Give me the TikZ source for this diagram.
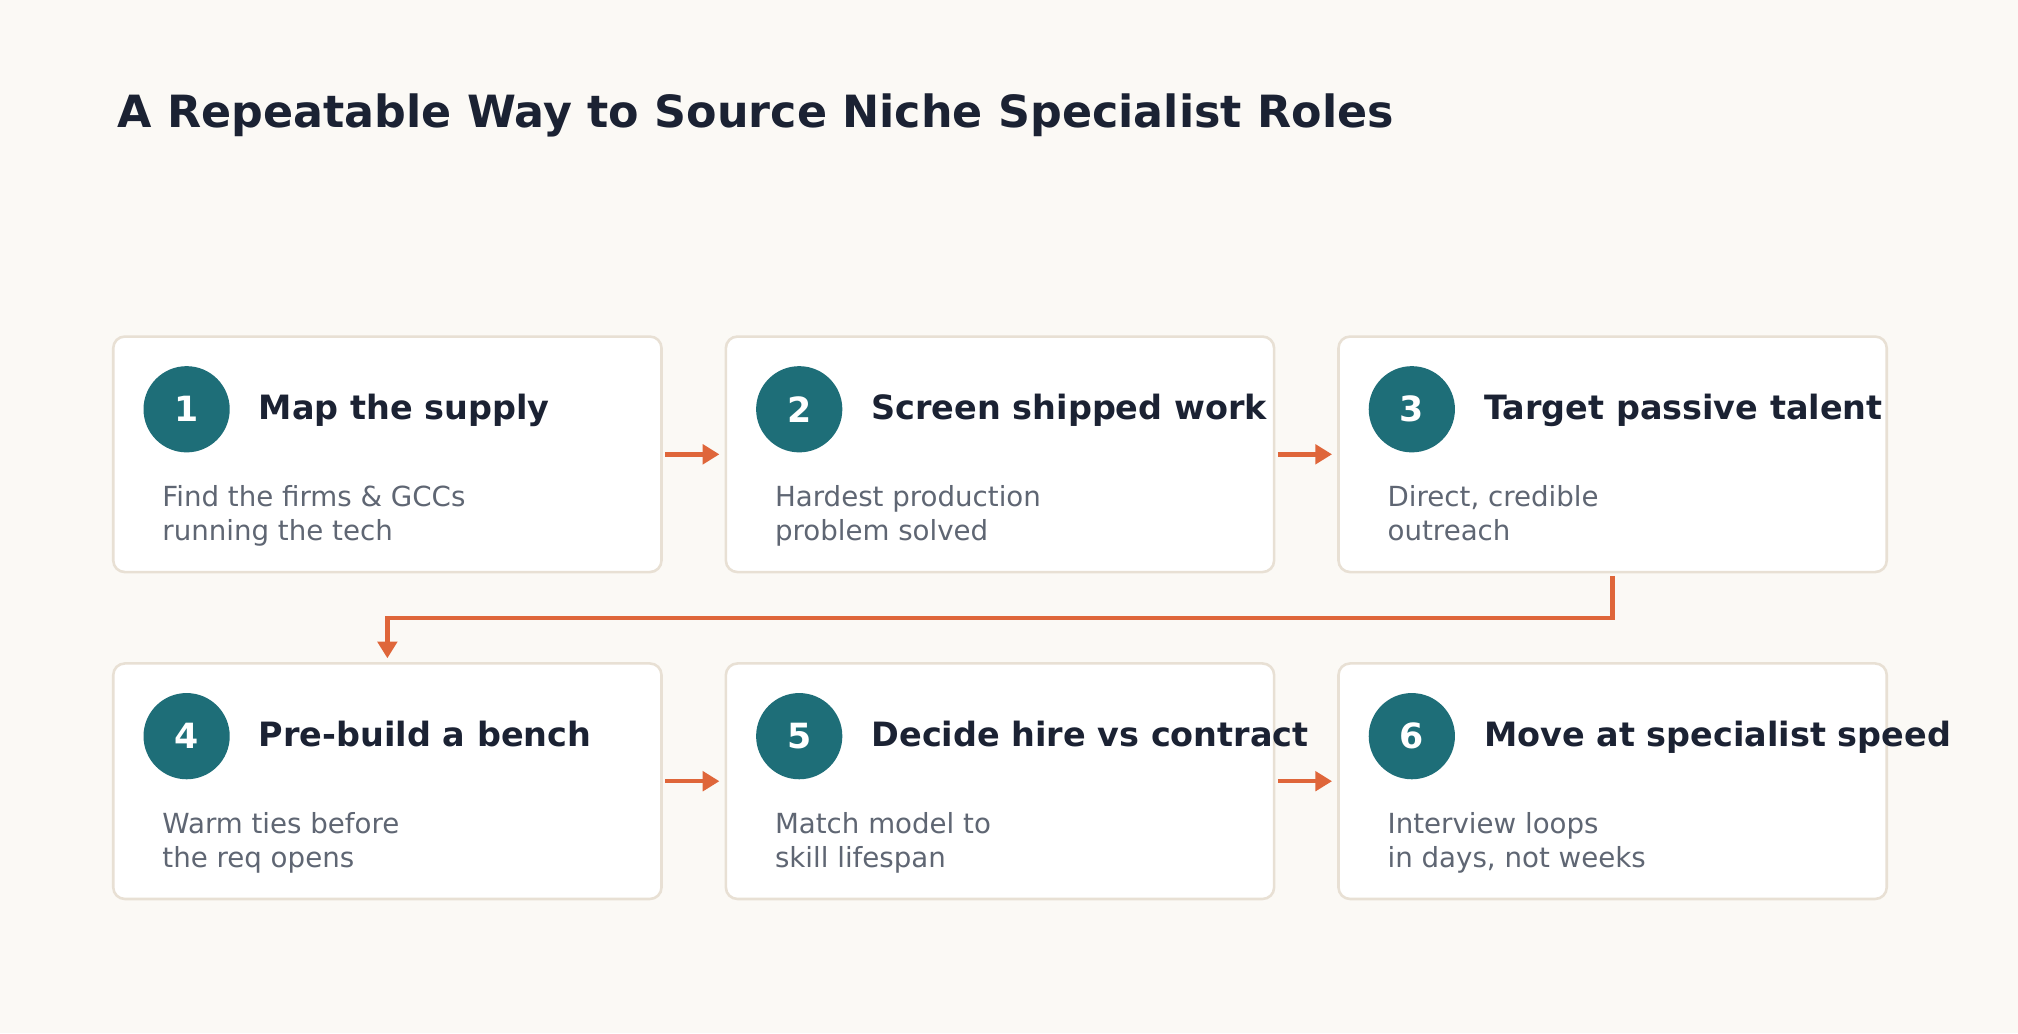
\documentclass[tikz,border=0pt]{standalone}
\usepackage{fontspec}
\setmainfont{DejaVu Sans}
\usetikzlibrary{arrows.meta,calc}
\definecolor{bg}{HTML}{FBF9F5}
\definecolor{bord}{HTML}{E8E0D4}
\definecolor{teal}{HTML}{1E6E78}
\definecolor{ink}{HTML}{1B2233}
\definecolor{gry}{HTML}{5F6673}
\definecolor{org}{HTML}{DF663A}
\begin{document}
\begin{tikzpicture}[x=1pt,y=-1pt,
  box/.style={draw=bord,line width=2pt,fill=white,rounded corners=9pt,minimum width=426pt,minimum height=183pt,inner sep=0pt},
  num/.style={circle,fill=teal,minimum size=67pt,inner sep=0pt,text=white,font=\fontsize{27}{30}\selectfont\bfseries},
  ttl/.style={anchor=base west,text=ink,font=\fontsize{26}{30}\selectfont\bfseries,inner sep=0pt},
  body/.style={anchor=north west,align=left,text=gry,font=\fontsize{21.5}{26.5}\selectfont,inner sep=0pt},
  arr/.style={draw=org,line width=3.5pt,-{Triangle[length=13pt,width=15pt]}}]
\fill[bg] (0,0) rectangle (1568,803);
\useasboundingbox (0,0) rectangle (1568,803);
\node[anchor=west,text=ink,font=\fontsize{34.5}{40}\selectfont\bfseries,inner sep=0pt] (title) at (91,90) {A Repeatable Way to Source Niche Specialist Roles};
\foreach \i/\x/\y/\t/\a/\b in {
 1/301/353/{Map the supply}/{Find the firms \& GCCs}/{running the tech},
 2/777/353/{Screen shipped work}/{Hardest production}/{problem solved},
 3/1253/353/{Target passive talent}/{Direct, credible}/{outreach},
 4/301/607/{Pre-build a bench}/{Warm ties before}/{the req opens},
 5/777/607/{Decide hire vs contract}/{Match model to}/{skill lifespan},
 6/1253/607/{Move at specialist speed}/{Interview loops}/{in days, not weeks}}{
  \node[box] (b\i) at (\x,\y) {};
  \node[num] (n\i) at (\x-156,\y-35) {\i};
  \node[ttl] (t\i) at (\x-100,\y-27) {\t};
  \node[body] (d\i) at (\x-175,\y+24) {\a\\\b};
}
\foreach \p/\q in {1/2,2/3,4/5,5/6}
  \draw[arr,shorten <=2pt,shorten >=4pt] (b\p.east) -- (b\q.west);
\coordinate (mid) at (777,480);
\draw[arr,shorten <=2pt,shorten >=3pt] (b3.south) |- (mid) -| (b4.north);
\end{tikzpicture}
\end{document}
